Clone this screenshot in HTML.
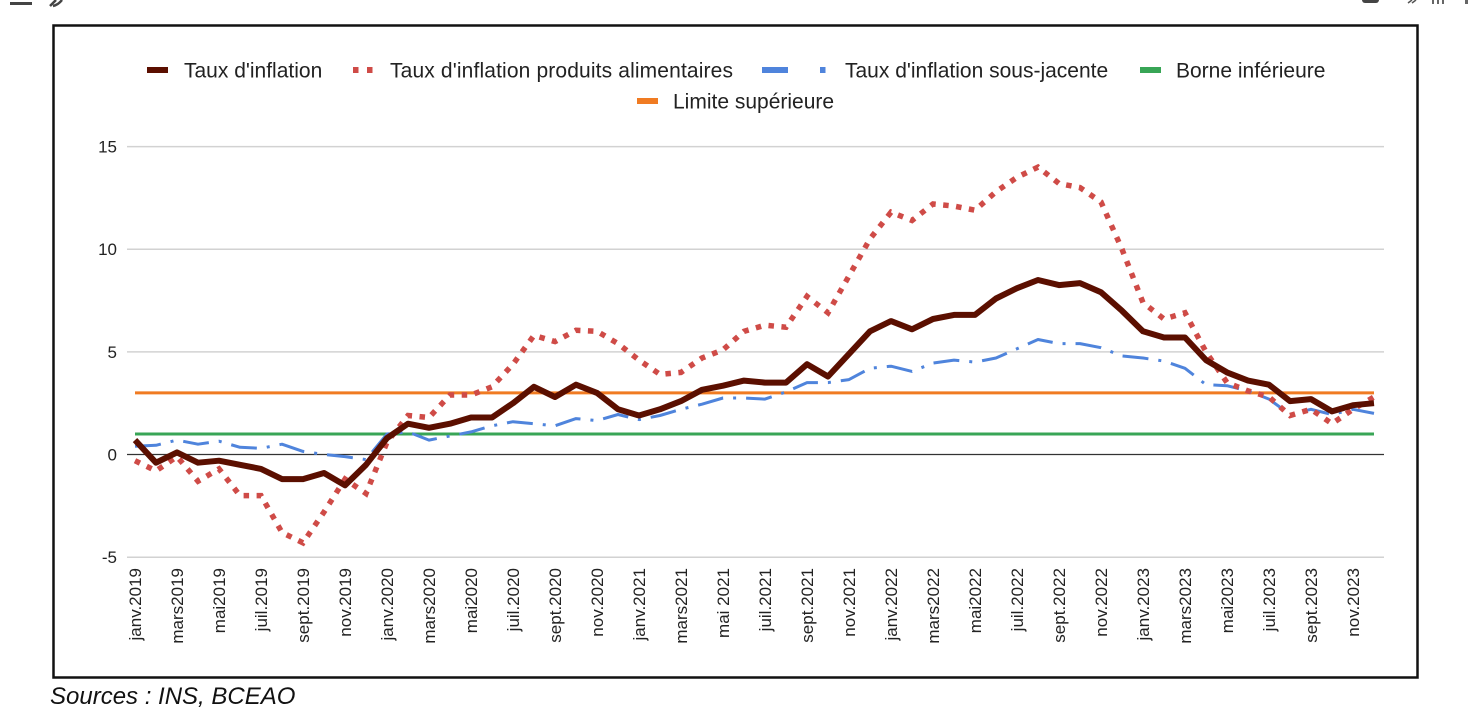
<!DOCTYPE html>
<html><head><meta charset="utf-8">
<style>
html,body{margin:0;padding:0;background:#fff;}
svg{display:block;}
text{font-family:"Liberation Sans",Arial,sans-serif;}
</style></head>
<body>
<svg width="1476" height="725" viewBox="0 0 1476 725" xmlns="http://www.w3.org/2000/svg">
<rect width="1476" height="725" fill="#fff"/>
<!-- top partial UI icons -->
<rect x="10" y="2" width="22" height="3" fill="#444"/>
<path d="M50 6 L56 0 M53 6 Q58 5 62 0" stroke="#444" stroke-width="2.5" fill="none"/>
<rect x="1362" y="-4" width="17" height="7" rx="3" fill="#444"/>
<path d="M1412 0 L1408 3 M1416 0 L1412 3" stroke="#555" stroke-width="1.5"/>
<rect x="1432" y="0" width="2" height="4" fill="#666"/><rect x="1437" y="0" width="2" height="4" fill="#666"/><rect x="1442" y="0" width="2" height="4" fill="#666"/>
<rect x="1465" y="0" width="3" height="4" fill="#666"/>

<!-- frame -->
<rect x="53.5" y="25.5" width="1364" height="652" fill="#fff" stroke="#111" stroke-width="2.5"/>

<!-- legend -->
<g font-size="21" fill="#222">
<rect x="147" y="67" width="21" height="6" fill="#5b0f00"/>
<text x="184" y="77.5">Taux d'inflation</text>
<rect x="353" y="67" width="5.5" height="6" fill="#cf4b47"/>
<rect x="367" y="67" width="5.5" height="6" fill="#cf4b47"/>
<text x="390" y="77.5" textLength="343" lengthAdjust="spacing">Taux d'inflation produits alimentaires</text>
<rect x="762" y="67" width="26" height="6" fill="#4f84dc"/>
<rect x="820" y="67" width="5.5" height="6" fill="#4f84dc"/>
<text x="845" y="77.5">Taux d'inflation sous-jacente</text>
<rect x="1140" y="67" width="21" height="6" fill="#38a556"/>
<text x="1176" y="77.5">Borne inférieure</text>
<rect x="637" y="98" width="21" height="6" fill="#f07b22"/>
<text x="673" y="108.5">Limite supérieure</text>
</g>

<!-- gridlines -->
<g stroke="#d2d2d2" stroke-width="1.5">
<line x1="127" y1="146.6" x2="1384" y2="146.6"/>
<line x1="127" y1="249.2" x2="1384" y2="249.2"/>
<line x1="127" y1="351.9" x2="1384" y2="351.9"/>
<line x1="127" y1="557.2" x2="1384" y2="557.2"/>
</g>
<line x1="127" y1="454.5" x2="1384" y2="454.5" stroke="#333" stroke-width="1.3"/>

<!-- y labels -->
<g font-size="17" fill="#222" text-anchor="end">
<text x="117" y="152.6">15</text>
<text x="117" y="255.2">10</text>
<text x="117" y="357.9">5</text>
<text x="117" y="460.5">0</text>
<text x="117" y="563.2">-5</text>
</g>

<!-- bounds -->
<line x1="135" y1="434" x2="1374" y2="434" stroke="#38a556" stroke-width="3"/>
<line x1="135" y1="392.9" x2="1374" y2="392.9" stroke="#f07b22" stroke-width="3"/>

<!-- core inflation -->
<polyline fill="none" stroke="#4f84dc" stroke-width="3" stroke-dasharray="26 10 3 10" stroke-linejoin="round"
points="135,446.3 156,445.3 177,440.1 198,444.2 219,441.2 240,447.3 261,448.3 282,444.2 303,451.4 324,454.5 345,456.6 366,459.6 387,434.0 408,431.9 429,440.1 450,436.0 471,431.9 492,425.8 513,421.7 534,423.7 555,425.8 576,418.6 597,420.6 618,414.5 639,419.6 660,415.5 681,409.3 702,404.2 723,398.0 744,398.0 765,399.1 786,391.9 807,382.6 828,382.6 849,379.6 870,368.3 891,366.2 912,371.4 933,363.1 954,360.1 975,362.1 996,358.0 1017,348.8 1038,339.5 1059,343.6 1080,343.6 1101,347.7 1122,356.0 1143,358.0 1164,361.1 1185,368.3 1206,384.7 1227,385.7 1248,390.9 1269,399.1 1290,414.5 1311,409.3 1332,414.5 1353,409.3 1374,413.4"/>

<!-- food inflation -->
<polyline fill="none" stroke="#cf4b47" stroke-width="5.5" stroke-dasharray="5.5 7.5" stroke-linejoin="miter"
points="135,460.7 156,470.9 177,456.6 198,481.2 219,468.9 240,495.6 261,495.6 282,532.5 303,542.8 324,512.0 345,479.1 366,493.5 387,442.2 408,415.5 429,417.5 450,395.0 471,395.0 492,386.8 513,364.2 534,335.4 555,341.6 576,330.3 597,331.3 618,343.6 639,360.1 660,374.4 681,372.4 702,358.0 723,349.8 744,331.3 765,325.2 786,327.2 807,296.4 828,312.8 849,275.9 870,238.9 891,212.2 912,220.5 933,204.0 954,206.1 975,210.2 996,191.7 1017,177.3 1038,167.1 1059,183.5 1080,187.6 1101,202.0 1122,249.2 1143,302.6 1164,319.0 1185,312.8 1206,351.9 1227,382.6 1248,390.9 1269,397.0 1290,415.5 1311,409.3 1332,423.7 1353,409.3 1374,397.0"/>

<!-- headline inflation -->
<polyline fill="none" stroke="#5b0f00" stroke-width="6" stroke-linejoin="round"
points="135,440.1 156,462.7 177,452.4 198,462.7 219,460.7 240,464.8 261,468.9 282,479.1 303,479.1 324,473.0 345,485.3 366,464.8 387,438.1 408,423.7 429,427.8 450,423.7 471,417.5 492,417.5 513,403.2 534,386.8 555,397.0 576,384.7 597,392.9 618,409.3 639,415.5 660,409.3 681,401.1 702,389.8 723,385.7 744,380.6 765,382.6 786,382.6 807,364.2 828,376.5 849,353.9 870,331.3 891,321.1 912,329.3 933,319.0 954,314.9 975,314.9 996,298.5 1017,288.2 1038,280.0 1059,285.1 1080,283.1 1101,292.3 1122,310.8 1143,331.3 1164,337.5 1185,337.5 1206,360.1 1227,372.4 1248,380.6 1269,384.7 1290,401.1 1311,399.1 1332,411.4 1353,405.2 1374,403.2"/>

<!-- x labels -->
<g font-size="17" fill="#222" text-anchor="end">
<text transform="translate(135,568) rotate(-90)" dy="0.35em">janv.2019</text>
<text transform="translate(177,568) rotate(-90)" dy="0.35em">mars2019</text>
<text transform="translate(219,568) rotate(-90)" dy="0.35em">mai2019</text>
<text transform="translate(261,568) rotate(-90)" dy="0.35em">juil.2019</text>
<text transform="translate(303,568) rotate(-90)" dy="0.35em">sept.2019</text>
<text transform="translate(345,568) rotate(-90)" dy="0.35em">nov.2019</text>
<text transform="translate(387,568) rotate(-90)" dy="0.35em">janv.2020</text>
<text transform="translate(429,568) rotate(-90)" dy="0.35em">mars2020</text>
<text transform="translate(471,568) rotate(-90)" dy="0.35em">mai2020</text>
<text transform="translate(513,568) rotate(-90)" dy="0.35em">juil.2020</text>
<text transform="translate(555,568) rotate(-90)" dy="0.35em">sept.2020</text>
<text transform="translate(597,568) rotate(-90)" dy="0.35em">nov.2020</text>
<text transform="translate(639,568) rotate(-90)" dy="0.35em">janv.2021</text>
<text transform="translate(681,568) rotate(-90)" dy="0.35em">mars2021</text>
<text transform="translate(723,568) rotate(-90)" dy="0.35em">mai 2021</text>
<text transform="translate(765,568) rotate(-90)" dy="0.35em">juil.2021</text>
<text transform="translate(807,568) rotate(-90)" dy="0.35em">sept.2021</text>
<text transform="translate(849,568) rotate(-90)" dy="0.35em">nov.2021</text>
<text transform="translate(891,568) rotate(-90)" dy="0.35em">janv.2022</text>
<text transform="translate(933,568) rotate(-90)" dy="0.35em">mars2022</text>
<text transform="translate(975,568) rotate(-90)" dy="0.35em">mai2022</text>
<text transform="translate(1017,568) rotate(-90)" dy="0.35em">juil.2022</text>
<text transform="translate(1059,568) rotate(-90)" dy="0.35em">sept.2022</text>
<text transform="translate(1101,568) rotate(-90)" dy="0.35em">nov.2022</text>
<text transform="translate(1143,568) rotate(-90)" dy="0.35em">janv.2023</text>
<text transform="translate(1185,568) rotate(-90)" dy="0.35em">mars2023</text>
<text transform="translate(1227,568) rotate(-90)" dy="0.35em">mai2023</text>
<text transform="translate(1269,568) rotate(-90)" dy="0.35em">juil.2023</text>
<text transform="translate(1311,568) rotate(-90)" dy="0.35em">sept.2023</text>
<text transform="translate(1353,568) rotate(-90)" dy="0.35em">nov.2023</text>
</g>

<!-- source -->
<text x="50" y="704" font-size="24" font-style="italic" fill="#111">Sources : INS, BCEAO</text>
</svg>
</body></html>
